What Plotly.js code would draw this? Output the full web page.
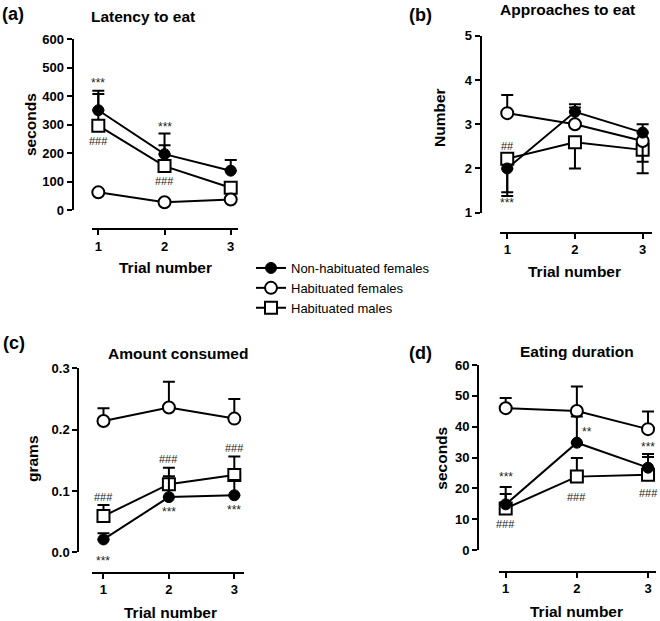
<!DOCTYPE html>
<html>
<head>
<meta charset="utf-8">
<script src="https://cdn.plot.ly/plotly-3.0.1.min.js"></script>
<style>
  html, body { margin: 0; padding: 0; background: #fff; }
  #grafico { width: 660px; height: 621px; }
</style>
</head>
<body>
<div id="grafico"></div>
<script>
// ---------------------------------------------------------------------
// DATOS
// ---------------------------------------------------------------------
const ensayos = [1, 2, 3];
const nombresSeries = ["Non-habituated females", "Habituated females", "Habituated males"];

// (a) Latency to eat (seconds)
const latenciaNoHab = [350, 196, 138];
const latenciaNoHabErr = [68, 72, 37];
const latenciaHabH = [62, 27, 37];
const latenciaHabHErr = [null, null, null];
const latenciaHabM = [296, 154, 78];
const latenciaHabMErr = [111, 73, null];

// (b) Approaches to eat (number)
const aproxNoHab = [2.0, 3.28, 2.81];
const aproxNoHabErrMas = [null, 0.17, 0.19];
const aproxNoHabErrMenos = [0.54, null, null];
const aproxHabH = [3.25, 3.0, 2.62];
const aproxHabHErrMas = [0.41, 0.38, null];
const aproxHabHErrMenos = [null, null, 0.47];
const aproxHabM = [2.22, 2.59, 2.42];
const aproxHabMErrMas = [null, null, null];
const aproxHabMErrMenos = [0.84, 0.59, 0.53];

// (c) Amount consumed (grams)
const consumoNoHab = [0.021, 0.090, 0.093];
const consumoNoHabErr = [0.010, 0.034, 0.025];
const consumoHabH = [0.214, 0.236, 0.218];
const consumoHabHErr = [0.021, 0.042, 0.032];
const consumoHabM = [0.059, 0.111, 0.126];
const consumoHabMErr = [0.018, 0.027, 0.030];

// (d) Eating duration (seconds)
const duracionNoHab = [14.8, 34.8, 26.7];
const duracionNoHabErr = [5.6, 8.5, 3.5];
const duracionHabH = [46.0, 45.1, 39.2];
const duracionHabHErr = [3.3, 7.9, 5.7];
const duracionHabM = [13.5, 23.8, 24.4];
const duracionHabMErr = [4.7, 6.0, 6.7];

// Marcas de significancia: [panel, texto, ensayo, valor]
const marcas = [
  ["a", "***", 1, 445], ["a", "###", 1, 242], ["a", "***", 2, 292], ["a", "###", 2, 103],
  ["b", "##", 1, 2.51], ["b", "***", 1, 1.22],
  ["c", "###", 1, 0.090], ["c", "***", 1, 0.0], ["c", "###", 2, 0.152], ["c", "***", 2, 0.066],
  ["c", "###", 3, 0.170], ["c", "***", 3, 0.069],
  ["d", "***", 1, 23.6], ["d", "###", 1, 8.4], ["d", "**", 2.14, 38.4], ["d", "###", 2, 17.3],
  ["d", "***", 3, 33.5], ["d", "###", 3, 18.4],
];

// ---------------------------------------------------------------------
// GEOMETRIA (pixeles de la figura original -> fracciones de papel)
// ---------------------------------------------------------------------
const ANCHO = 660, ALTO = 621;
const px = (x) => x / ANCHO;
const py = (y) => 1 - y / ALTO;
const FUENTE = "Liberation Sans, Arial, sans-serif";

const paneles = {
  a: { ejeX: "x", ejeY: "y", xL: 91.7, xR: 238, lineaX: 229.3, rangoX: [0.9, 3.11],
       yTop: 39, yBot: 210, lineaY: 72.5, rangoY: [0, 600], ticksY: [0, 100, 200, 300, 400, 500, 600], fmt: "" },
  b: { ejeX: "x2", ejeY: "y2", xL: 500, xR: 652, lineaX: 232.7, rangoX: [0.893, 3.138],
       yTop: 35.7, yBot: 212.7, lineaY: 480.7, rangoY: [1, 5], ticksY: [1, 2, 3, 4, 5], fmt: "" },
  c: { ejeX: "x3", ejeY: "y3", xL: 91.7, xR: 244, lineaX: 572.5, rangoX: [0.82, 3.148],
       yTop: 368.3, yBot: 552.3, lineaY: 78.3, rangoY: [0, 0.3], ticksY: [0, 0.1, 0.2, 0.3], fmt: ".1f" },
  d: { ejeX: "x4", ejeY: "y4", xL: 499, xR: 656, lineaX: 571.7, rangoX: [0.906, 3.112],
       yTop: 365, yBot: 550, lineaY: 478, rangoY: [0, 60], ticksY: [0, 10, 20, 30, 40, 50, 60], fmt: "" },
};

// ---------------------------------------------------------------------
// TRAZAS
// ---------------------------------------------------------------------
const sinNulos = (arr) => arr.map((v) => (v === null ? NaN : v));

const estilos = [
  // habituated males (cuadrados, al fondo)
  { nombre: nombresSeries[2], marker: { symbol: "square", size: 12, color: "#fff", line: { color: "#000", width: 2 } } },
  // habituated females (circulo abierto)
  { nombre: nombresSeries[1], marker: { symbol: "circle", size: 12, color: "#fff", line: { color: "#000", width: 2 } } },
  // non-habituated females (circulo relleno, arriba)
  { nombre: nombresSeries[0], marker: { symbol: "circle", size: 11, color: "#000", line: { color: "#000", width: 1 } } },
];

function traza(panel, idxEstilo, valores, errMas, errMenos) {
  const p = paneles[panel];
  const e = estilos[idxEstilo];
  return {
    x: ensayos,
    y: valores,
    xaxis: p.ejeX,
    yaxis: p.ejeY,
    type: "scatter",
    mode: "lines+markers",
    name: e.nombre,
    legendgroup: e.nombre,
    legendrank: 3 - idxEstilo,
    showlegend: panel === "a",
    line: { color: "#000", width: 2 },
    marker: e.marker,
    cliponaxis: false,
    error_y: {
      type: "data",
      symmetric: false,
      array: sinNulos(errMas),
      arrayminus: sinNulos(errMenos || [null, null, null]),
      color: "#000",
      thickness: 2,
      width: 6,
    },
  };
}

const trazas = [
  traza("a", 0, latenciaHabM, latenciaHabMErr),
  traza("a", 1, latenciaHabH, latenciaHabHErr),
  traza("a", 2, latenciaNoHab, latenciaNoHabErr),

  traza("b", 0, aproxHabM, aproxHabMErrMas, aproxHabMErrMenos),
  traza("b", 1, aproxHabH, aproxHabHErrMas, aproxHabHErrMenos),
  traza("b", 2, aproxNoHab, aproxNoHabErrMas, aproxNoHabErrMenos),

  traza("c", 0, consumoHabM, consumoHabMErr),
  traza("c", 1, consumoHabH, consumoHabHErr),
  traza("c", 2, consumoNoHab, consumoNoHabErr),

  traza("d", 0, duracionHabM, duracionHabMErr),
  traza("d", 1, duracionHabH, duracionHabHErr),
  traza("d", 2, duracionNoHab, duracionNoHabErr),
];

// ---------------------------------------------------------------------
// EJES
// ---------------------------------------------------------------------
const ejeBase = {
  showgrid: false,
  zeroline: false,
  showline: true,
  linecolor: "#000",
  linewidth: 2,
  ticks: "outside",
  ticklen: 5,
  tickwidth: 2,
  tickcolor: "#000",
  tickfont: { family: FUENTE, size: 13, color: "#000", weight: "bold" },
  fixedrange: true,
  anchor: "free",
};

const layout = {
  width: ANCHO,
  height: ALTO,
  margin: { l: 0, r: 0, t: 0, b: 0 },
  paper_bgcolor: "#fff",
  plot_bgcolor: "rgba(0,0,0,0)",
  font: { family: FUENTE, color: "#000" },
  showlegend: true,
  legend: {
    x: px(251), y: py(253), xanchor: "left", yanchor: "top",
    font: { family: FUENTE, size: 13, color: "#000" },
    bgcolor: "rgba(0,0,0,0)",
    itemwidth: 30,
    tracegroupgap: 0,
    traceorder: "normal",
  },
  annotations: [],
};

Object.entries(paneles).forEach(([clave, p]) => {
  const sufijo = p.ejeX.slice(1);
  layout["xaxis" + sufijo] = Object.assign({}, ejeBase, {
    domain: [px(p.xL), px(p.xR)],
    position: py(p.lineaX),
    range: p.rangoX,
    tickvals: ensayos,
  });
  layout["yaxis" + sufijo] = Object.assign({}, ejeBase, {
    domain: [py(p.yBot), py(p.yTop)],
    position: px(p.lineaY),
    range: p.rangoY,
    tickvals: p.ticksY,
    tickformat: p.fmt,
  });
});

// ---------------------------------------------------------------------
// TEXTOS: letras de panel, titulos y titulos de ejes
// ---------------------------------------------------------------------
function texto(t, x, y, size, opciones) {
  return Object.assign({
    text: t, xref: "paper", yref: "paper", x: px(x), y: py(y),
    xanchor: "center", yanchor: "middle", showarrow: false,
    font: { family: FUENTE, size: size, color: "#000", weight: "bold" },
  }, opciones || {});
}

layout.annotations.push(
  texto("(a)", 13, 14, 18),
  texto("Latency to eat", 142.5, 16, 15.5),
  texto("seconds", 30, 125, 15.5, { textangle: -90 }),
  texto("Trial number", 165, 267, 15.5),

  texto("(b)", 420, 15, 18),
  texto("Approaches to eat", 567, 10, 15.5),
  texto("Number", 440, 118, 15.5, { textangle: -90 }),
  texto("Trial number", 574, 271.5, 15.5),

  texto("(c)", 14, 343, 18),
  texto("Amount consumed", 178, 353, 15.5),
  texto("grams", 33, 459, 15.5, { textangle: -90 }),
  texto("Trial number", 170, 612.5, 15.5),

  texto("(d)", 420, 353, 18),
  texto("Eating duration", 576.7, 351.7, 15.5),
  texto("seconds", 441.7, 458, 15.5, { textangle: -90 }),
  texto("Trial number", 576.7, 611.7, 15.5)
);

marcas.forEach(([panel, t, x, y]) => {
  const p = paneles[panel];
  layout.annotations.push({
    text: t, xref: p.ejeX, yref: p.ejeY, x: x, y: y,
    xanchor: "center", yanchor: y === 0 ? "top" : "middle",
    showarrow: false,
    font: { family: FUENTE, size: t.charAt(0) === "*" ? 12 : 11, color: "#222" },
  });
});

Plotly.newPlot("grafico", trazas, layout, { staticPlot: true, displayModeBar: false });
</script>
</body>
</html>
